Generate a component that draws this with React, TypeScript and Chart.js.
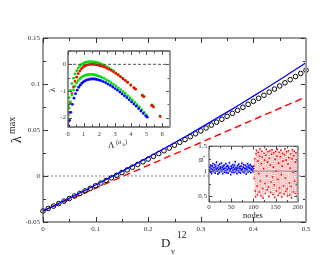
import React, { useEffect, useRef } from "react";
import { Chart, registerables } from "chart.js";

Chart.register(...registerables);

const SERIF = '"Liberation Serif", "DejaVu Serif", serif';

// ---------------- main panel ----------------
const dv12 = [
  0, 0.01, 0.02, 0.03, 0.04, 0.05, 0.06, 0.07, 0.08, 0.09,
  0.1, 0.11, 0.12, 0.13, 0.14, 0.15, 0.16, 0.17, 0.18, 0.19,
  0.2, 0.21, 0.22, 0.23, 0.24, 0.25, 0.26, 0.27, 0.28, 0.29,
  0.3, 0.31, 0.32, 0.33, 0.34, 0.35, 0.36, 0.37, 0.38, 0.39,
  0.4, 0.41, 0.42, 0.43, 0.44, 0.45, 0.46, 0.47, 0.48, 0.49, 0.5,
];
const lambdaMax = [
  -0.038, -0.0353, -0.0327, -0.03, -0.0273, -0.0245, -0.0217, -0.019, -0.0162, -0.0134,
  -0.0106, -0.0077, -0.0049, -0.002, 0.0008, 0.0037, 0.0066, 0.0095, 0.0125, 0.0154,
  0.0184, 0.0214, 0.0244, 0.0274, 0.0304, 0.0335, 0.0366, 0.0396, 0.0427, 0.0459,
  0.049, 0.0522, 0.0553, 0.0585, 0.0617, 0.0649, 0.0681, 0.0714, 0.0747, 0.0779,
  0.0812, 0.0845, 0.0878, 0.0912, 0.0945, 0.0979, 0.1013, 0.1047, 0.1081, 0.1115, 0.115,
];
const blueFitX = [0, 0.05, 0.1, 0.15, 0.2, 0.25, 0.3, 0.35, 0.4, 0.45, 0.5];
const blueFitY = [-0.038, -0.0241, -0.0098, 0.0051, 0.0204, 0.0362, 0.0526, 0.0694, 0.0868, 0.1046, 0.123];
const redFitX = [0, 0.5];
const redFitY = [-0.038, 0.086];
const mainXTicks = [0, 0.1, 0.2, 0.3, 0.4, 0.5];
const mainYTicks = [-0.05, 0, 0.05, 0.1, 0.15];

// ---------------- inset 1 : dispersion curves ----------------
const g1X = [0.03, 0.08, 0.15, 0.25, 0.35, 0.45, 0.55, 0.65, 0.75, 0.85, 0.95, 1.05, 1.15, 1.25, 1.35, 1.45, 1.55, 1.65, 1.75, 1.85, 1.95, 2.05, 2.15, 2.3, 2.45, 2.6, 2.75, 2.9, 3.05, 3.2, 3.35, 3.5, 3.65, 3.8, 4.0, 4.2, 4.3, 4.75, 4.85, 5.35, 5.42, 5.85];
const g1Y = [-1.55, -1.25, -0.98, -0.72, -0.52, -0.36, -0.24, -0.14, -0.06, -0.01, 0.03, 0.06, 0.08, 0.09, 0.1, 0.1, 0.1, 0.09, 0.08, 0.07, 0.05, 0.03, 0.01, -0.03, -0.08, -0.13, -0.19, -0.25, -0.32, -0.39, -0.46, -0.53, -0.6, -0.67, -0.77, -0.87, -0.92, -1.15, -1.2, -1.52, -1.56, -1.93];
const rX = [0.03, 0.08, 0.15, 0.25, 0.35, 0.45, 0.55, 0.65, 0.75, 0.85, 0.95, 1.05, 1.15, 1.25, 1.35, 1.45, 1.55, 1.65, 1.75, 1.85, 1.95, 2.05, 2.15, 2.3, 2.45, 2.6, 2.75, 2.9, 3.05, 3.2, 3.35, 3.5, 3.65, 3.8, 4.0, 4.2, 4.3, 4.73, 4.83, 5.33, 5.45, 5.88];
const rY = [-2.15, -1.8, -1.45, -1.1, -0.85, -0.64, -0.48, -0.35, -0.25, -0.17, -0.11, -0.07, -0.04, -0.02, -0.01, 0.0, 0.0, 0.0, -0.01, -0.02, -0.03, -0.05, -0.07, -0.1, -0.14, -0.18, -0.23, -0.28, -0.34, -0.4, -0.47, -0.54, -0.61, -0.68, -0.78, -0.88, -0.93, -1.17, -1.22, -1.54, -1.6, -1.96];
const g2X = [0.03, 0.08, 0.15, 0.25, 0.35, 0.45, 0.55, 0.65, 0.75, 0.85, 0.95, 1.05, 1.15, 1.25, 1.35, 1.45, 1.55, 1.65, 1.75, 1.85, 1.95, 2.05, 2.15, 2.3, 2.45, 2.6, 2.75, 2.9, 3.05, 3.2, 3.35, 3.5, 3.65, 3.8, 3.95, 4.1, 4.25, 4.4, 4.55, 4.7, 4.85, 5.0];
const g2Y = [-1.9, -1.65, -1.4, -1.15, -0.96, -0.82, -0.7, -0.61, -0.54, -0.49, -0.45, -0.42, -0.4, -0.39, -0.38, -0.38, -0.38, -0.39, -0.4, -0.42, -0.44, -0.46, -0.49, -0.53, -0.58, -0.63, -0.69, -0.75, -0.81, -0.88, -0.95, -1.02, -1.09, -1.17, -1.25, -1.33, -1.42, -1.51, -1.6, -1.7, -1.8, -1.9];
const bX = [0.05, 0.1, 0.18, 0.28, 0.38, 0.48, 0.58, 0.68, 0.78, 0.88, 0.98, 1.08, 1.18, 1.28, 1.38, 1.48, 1.58, 1.68, 1.78, 1.88, 1.98, 2.1, 2.25, 2.4, 2.55, 2.7, 2.85, 3.0, 3.15, 3.3, 3.45, 3.6, 3.75, 3.9, 4.05, 4.2, 4.35, 4.5, 4.65, 4.8, 4.95, 5.05];
const bY = [-2.3, -2.1, -1.8, -1.5, -1.27, -1.1, -0.97, -0.86, -0.78, -0.71, -0.66, -0.62, -0.59, -0.57, -0.56, -0.55, -0.55, -0.55, -0.56, -0.57, -0.59, -0.61, -0.65, -0.69, -0.74, -0.79, -0.85, -0.91, -0.97, -1.04, -1.11, -1.18, -1.25, -1.33, -1.41, -1.49, -1.57, -1.66, -1.75, -1.84, -1.93, -1.98];
const in1XTicks = [0, 1, 2, 3, 4, 5, 6];
const in1YTicks = [-2, -1, 0];

// ---------------- inset 2 : node states ----------------
const uBlue = [
  1.02, 1.08, 0.98, 1.12, 1.05, 0.95, 1.1, 1.03, 1.15, 0.99,
  1.07, 1.01, 1.13, 0.96, 1.09, 1.04, 1.18, 1.0, 1.06, 0.94,
  1.11, 1.03, 0.97, 1.14, 1.05, 1.08, 0.99, 1.16, 1.02, 1.07,
  0.95, 1.1, 1.04, 1.12, 0.98, 1.06, 1.01, 1.15, 0.97, 1.09,
  1.03, 1.11, 0.96, 1.08, 1.05, 1.17, 1.0, 1.04, 0.93, 1.1,
  1.06, 0.98, 1.13, 1.02, 1.08, 0.97, 1.12, 1.04, 1.19, 0.99,
  1.07, 1.03, 0.95, 1.11, 1.06, 1.01, 1.14, 0.98, 1.09, 1.05,
  0.96, 1.1, 1.02, 1.16, 1.04, 0.99, 1.08, 1.13, 0.97, 1.06,
  1.01, 1.12, 1.05, 0.94, 1.09, 1.03, 1.15, 0.98, 1.07, 1.11,
  1.0, 1.06, 1.13, 0.97, 1.04, 1.1, 1.02, 1.08, 0.99, 1.05,
];
const uRed = [
  1.1, 0.85, 1.25, 0.6, 0.48, 1.35, 1.42, 0.7, 0.52, 1.2,
  1.38, 0.95, 0.58, 1.3, 1.45, 0.8, 0.5, 1.15, 1.4, 1.28,
  0.65, 0.46, 1.05, 1.36, 1.22, 0.75, 0.55, 1.32, 1.44, 0.9,
  0.62, 1.18, 1.39, 0.68, 0.49, 1.26, 1.41, 1.12, 0.57, 0.78,
  1.34, 1.43, 0.88, 0.53, 1.08, 1.37, 0.72, 0.47, 1.24, 1.4,
  1.0, 0.6, 1.3, 1.44, 0.83, 0.51, 1.16, 1.38, 0.66, 0.56,
  1.29, 1.42, 0.93, 0.48, 1.1, 1.36, 1.2, 0.7, 0.54, 1.33,
  1.45, 0.86, 0.59, 1.22, 1.39, 0.64, 0.5, 1.14, 1.41, 1.27,
  0.76, 0.52, 1.06, 1.35, 0.69, 0.46, 1.25, 1.43, 0.98, 0.58,
  1.31, 1.4, 0.8, 0.55, 1.18, 1.37, 0.73, 0.49, 1.21, 0.9,
];
const in2XTicks = [0, 50, 100, 150, 200];
const in2YTicks = [0.5, 1, 1.5];

// ---------------- helpers ----------------
const pts = (xs: number[], ys: number[]) => xs.map((x, i) => ({ x, y: ys[i] }));

type FrameOpts = {
  xMajor: number; xMinor: number; yMajor: number; yMinor: number;
  maj: number; min: number; dark: string; light: string; lw: number; rw: number;
};

function framePlugin(o: FrameOpts, whiteBg: boolean) {
  return {
    id: "frame",
    beforeDraw(chart: any) {
      if (!whiteBg) return;
      const { ctx, chartArea: a } = chart;
      ctx.save();
      ctx.fillStyle = "#fff";
      ctx.fillRect(a.left, a.top, a.right - a.left, a.bottom - a.top);
      ctx.restore();
    },
    afterDatasetsDraw(chart: any) {
      const { ctx, chartArea: a, scales } = chart;
      const sx = scales.x, sy = scales.y;
      const near = (v: number, s: number) => Math.abs(v / s - Math.round(v / s)) < 1e-6;
      ctx.save();
      ctx.strokeStyle = o.dark;
      ctx.lineWidth = 1;
      ctx.beginPath();
      const i0 = Math.ceil(sx.min / o.xMinor - 1e-6), i1 = Math.floor(sx.max / o.xMinor + 1e-6);
      for (let i = i0; i <= i1; i++) {
        const v = i * o.xMinor;
        const L = near(v, o.xMajor) ? o.maj : o.min;
        const p = Math.round(sx.getPixelForValue(v)) + 0.5;
        ctx.moveTo(p, a.bottom); ctx.lineTo(p, a.bottom - L);
        ctx.moveTo(p, a.top); ctx.lineTo(p, a.top + L);
      }
      const j0 = Math.ceil(sy.min / o.yMinor - 1e-6), j1 = Math.floor(sy.max / o.yMinor + 1e-6);
      for (let j = j0; j <= j1; j++) {
        const v = j * o.yMinor;
        const L = near(v, o.yMajor) ? o.maj : o.min;
        const p = Math.round(sy.getPixelForValue(v)) + 0.5;
        ctx.moveTo(a.left, p); ctx.lineTo(a.left + L, p);
        ctx.moveTo(a.right, p); ctx.lineTo(a.right - L, p);
      }
      ctx.stroke();
      ctx.lineWidth = o.lw;
      ctx.beginPath();
      ctx.moveTo(a.left, a.top); ctx.lineTo(a.left, a.bottom); ctx.lineTo(a.right, a.bottom);
      ctx.moveTo(a.left, a.top); ctx.lineTo(a.right, a.top);
      ctx.stroke();
      ctx.strokeStyle = o.light;
      ctx.lineWidth = o.rw;
      ctx.beginPath();
      ctx.moveTo(a.right, a.top - 0.5); ctx.lineTo(a.right, a.bottom + 0.5);
      ctx.stroke();
      ctx.restore();
    },
  };
}

function textPlugin(draw: (ctx: CanvasRenderingContext2D) => void) {
  return {
    id: "titles",
    afterDraw(chart: any) {
      const ctx = chart.ctx as CanvasRenderingContext2D;
      ctx.save();
      ctx.fillStyle = "#222";
      draw(ctx);
      ctx.restore();
    },
  };
}

function axis(min: number, max: number, ticks: number[], size: number, pad: number, fit: (s: any) => void) {
  return {
    type: "linear",
    min,
    max,
    afterBuildTicks: (s: any) => { s.ticks = ticks.map((v) => ({ value: v })); },
    ticks: {
      font: { family: SERIF, size },
      color: "#333",
      padding: pad,
      maxRotation: 0,
      autoSkip: false,
      callback: (v: any) => String(v),
    },
    grid: { display: false, drawTicks: false },
    border: { display: false },
    afterFit: fit,
  };
}

const baseOpts = (padding: any) => ({
  responsive: false,
  animation: false,
  devicePixelRatio: 1,
  layout: { padding },
  plugins: { legend: { display: false }, tooltip: { enabled: false } },
});

function useChart(ref: React.RefObject<HTMLCanvasElement>, build: () => any) {
  useEffect(() => {
    if (!ref.current) return;
    const c = new Chart(ref.current, build());
    return () => c.destroy();
  }, []);
}

export default function App() {
  const mainRef = useRef<HTMLCanvasElement>(null);
  const in1Ref = useRef<HTMLCanvasElement>(null);
  const in2Ref = useRef<HTMLCanvasElement>(null);

  useChart(mainRef, () => ({
    type: "scatter",
    data: {
      datasets: [
        {
          data: pts([0, 0.5], [0, 0]), showLine: true, borderColor: "#999", borderWidth: 1.2,
          borderDash: [2, 2], pointRadius: 0, order: 5,
        },
        {
          data: pts(redFitX, redFitY), showLine: true, borderColor: "#ff0000", borderWidth: 1.4,
          borderDash: [7, 4], pointRadius: 0, order: 4,
        },
        {
          data: pts(dv12, lambdaMax), showLine: false, pointStyle: "circle", pointRadius: 2.3,
          borderColor: "#000", borderWidth: 1, backgroundColor: "rgba(0,0,0,0)", clip: false, order: 3,
        },
        {
          data: pts(blueFitX, blueFitY), showLine: true, borderColor: "#0000ff", borderWidth: 1.3,
          pointRadius: 0, tension: 0.3, order: 2,
        },
      ],
    },
    options: {
      ...baseOpts({ top: 38, right: 24, left: 0, bottom: 0 }),
      scales: {
        x: axis(0, 0.5, mainXTicks, 7, 3, (s: any) => { s.height = 33; }),
        y: axis(-0.05, 0.15, mainYTicks, 7, 3, (s: any) => { s.width = 43; }),
      },
    },
    plugins: [
      framePlugin({ xMajor: 0.1, xMinor: 0.05, yMajor: 0.05, yMinor: 0.025, maj: 5, min: 3, dark: "#333", light: "#999", lw: 1, rw: 2 }, false),
      textPlugin((ctx) => {
        ctx.save();
        ctx.translate(17, 143);
        ctx.rotate(-Math.PI / 2);
        ctx.textBaseline = "middle";
        ctx.font = `14px ${SERIF}`;
        ctx.fillText("λ", 0, 0);
        ctx.font = `10px ${SERIF}`;
        ctx.fillText("max", 9, -5);
        ctx.restore();
        ctx.textBaseline = "alphabetic";
        ctx.font = `13px ${SERIF}`;
        ctx.fillText("D", 161, 247);
        ctx.font = `8px ${SERIF}`;
        ctx.fillText("v", 171, 254);
        ctx.font = `9.5px ${SERIF}`;
        ctx.fillText("12", 177, 238);
      }),
    ],
  }));

  useChart(in1Ref, () => ({
    type: "scatter",
    data: {
      datasets: [
        { data: pts([0, 6.5], [0, 0]), showLine: true, borderColor: "#555", borderWidth: 1, borderDash: [3, 2], pointRadius: 0 },
        { data: pts(bX, bY), pointRadius: 1.4, pointBorderWidth: 0, backgroundColor: "#0000ff" },
        { data: pts(g2X, g2Y), pointRadius: 1.4, pointBorderWidth: 0, backgroundColor: "#00e000" },
        { data: pts(rX, rY), pointRadius: 1.4, pointBorderWidth: 0, backgroundColor: "#ff0000" },
        { data: pts(g1X, g1Y), pointRadius: 1.4, pointBorderWidth: 0, backgroundColor: "#00e000" },
      ],
    },
    options: {
      ...baseOpts({ top: 7, right: 5, left: 0, bottom: 0 }),
      scales: {
        x: axis(0, 6.5, in1XTicks, 6.5, 3, (s: any) => { s.height = 23; }),
        y: axis(-2.35, 0.5, in1YTicks, 6.5, 2, (s: any) => { s.width = 22; }),
      },
    },
    plugins: [
      framePlugin({ xMajor: 1, xMinor: 0.5, yMajor: 1, yMinor: 0.5, maj: 4, min: 2.5, dark: "#555", light: "#999", lw: 1.3, rw: 2 }, true),
      textPlugin((ctx) => {
        ctx.font = `9px ${SERIF}`;
        ctx.fillText("Λ", 62, 104);
        ctx.font = `6px ${SERIF}`;
        ctx.fillText("(α", 70, 100);
        ctx.font = `4.5px ${SERIF}`;
        ctx.fillText("k", 76.5, 102);
        ctx.font = `6px ${SERIF}`;
        ctx.fillText(")", 79, 100);
        ctx.save();
        ctx.translate(7, 48);
        ctx.rotate(-Math.PI / 2);
        ctx.textBaseline = "middle";
        ctx.font = `9px ${SERIF}`;
        ctx.fillText("λ", 0, 0);
        ctx.restore();
      }),
    ],
  }));

  useChart(in2Ref, () => ({
    type: "scatter",
    data: {
      datasets: [
        { data: pts([0, 200], [1, 1]), showLine: true, borderColor: "#888", borderWidth: 1, pointRadius: 0 },
        {
          data: uBlue.map((u, i) => ({ x: i + 1, y: u })), showLine: true, borderColor: "#7070ff",
          borderWidth: 0.7, borderDash: [1, 1], pointStyle: "rect", pointRadius: 1.1, pointBorderWidth: 0,
          backgroundColor: "#0000ff",
        },
        {
          data: uRed.map((u, i) => ({ x: i + 101, y: u })), showLine: true, borderColor: "#ff7070",
          borderWidth: 0.7, borderDash: [1, 1], pointStyle: "rect", pointRadius: 1.1, pointBorderWidth: 0,
          backgroundColor: "#ff0000",
        },
      ],
    },
    options: {
      ...baseOpts({ top: 6, right: 4, left: 0, bottom: 0 }),
      scales: {
        x: axis(0, 200, in2XTicks, 7, 1, (s: any) => { s.height = 20; }),
        y: axis(0.38, 1.5, in2YTicks, 7, 2, (s: any) => { s.width = 19; }),
      },
    },
    plugins: [
      framePlugin({ xMajor: 50, xMinor: 25, yMajor: 0.5, yMinor: 0.25, maj: 3.5, min: 2, dark: "#444", light: "#999", lw: 1, rw: 2 }, true),
      textPlugin((ctx) => {
        ctx.font = `8.5px ${SERIF}`;
        ctx.textAlign = "center";
        ctx.fillText("nodes", 63, 78);
        ctx.textAlign = "left";
        ctx.save();
        ctx.translate(11, 22);
        ctx.rotate(-Math.PI / 2);
        ctx.textBaseline = "middle";
        ctx.font = `8px ${SERIF}`;
        ctx.fillText("u", 0, 0);
        ctx.font = `5px ${SERIF}`;
        ctx.fillText("i", 4.5, 2.5);
        ctx.restore();
      }),
    ],
  }));

  return (
    <div style={{ position: "fixed", left: 0, top: 0, width: 330, height: 255, background: "#fff" }}>
      <canvas ref={mainRef} width={330} height={255} style={{ position: "absolute", left: 0, top: 0, width: 330, height: 255 }} />
      <canvas ref={in1Ref} width={129} height={106} style={{ position: "absolute", left: 46, top: 44, width: 129, height: 106 }} />
      <canvas ref={in2Ref} width={114} height={82} style={{ position: "absolute", left: 190, top: 140, width: 114, height: 82 }} />
    </div>
  );
}
